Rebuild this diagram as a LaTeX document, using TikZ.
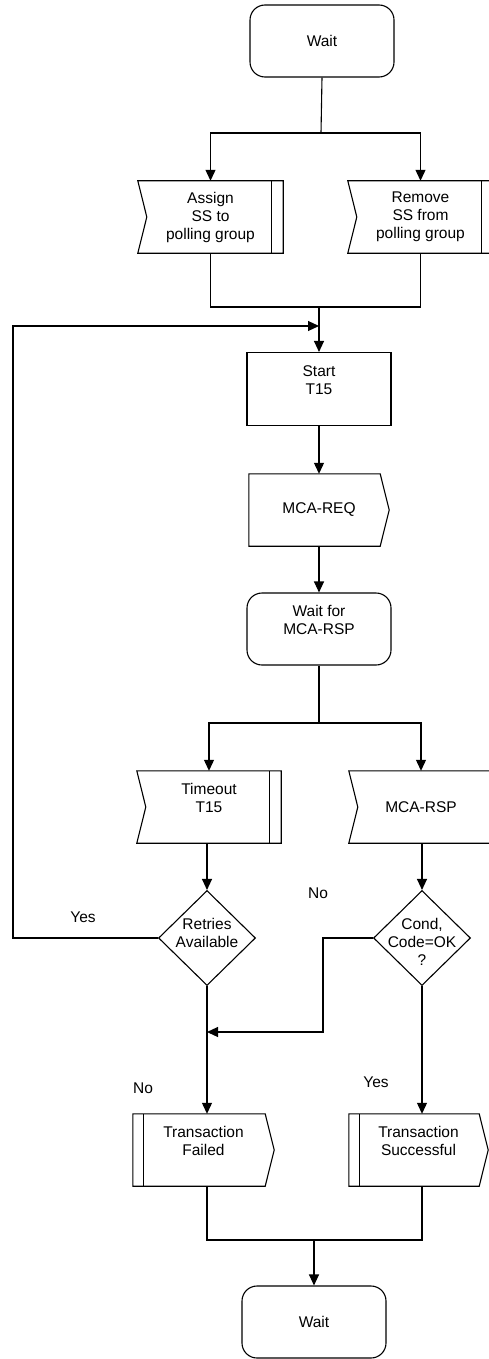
\documentclass[tikz,border=0pt]{standalone}
\usepackage{fontspec}
\setmainfont{Liberation Sans}
\usetikzlibrary{shapes.geometric, arrows.meta}

\begin{document}
\begin{tikzpicture}[
            x=1pt, y=-1pt, % pixel-like units, y going down
            every node/.style={font=\fontsize{15.5}{18}\selectfont, align=center, inner sep=0pt}, % text of all nodes
            conn/.style={line width=1.1pt}, % plain connector
            arrow/.style={conn, -{Triangle[length=11pt, width=10pt]}}, % connector with head
            state/.style={draw, line width=1.1pt, rounded corners=15pt, minimum width=144pt, minimum height=72pt}, % wait states
            task/.style={draw, line width=1.1pt, rectangle, minimum width=144pt, minimum height=73pt}, % task box
            insig/.style={rectangle, minimum width=144pt, minimum height=72pt}, % input signal, outline drawn below
            outsig/.style={rectangle, minimum width=140pt, minimum height=72pt}, % output signal, outline drawn below
            decision/.style={draw, line width=1.1pt, diamond, minimum width=97pt, minimum height=95pt} % decision
            ]
        \useasboundingbox (0,0) rectangle (489,1359);

        % boxes
        \node[state] (wait1) at (322,41) {Wait};
        \node[insig, minimum width=145pt] (assign) at (210.5,217) {Assign\\SS to\\polling group};
        \node[insig, minimum width=145pt] (remove) at (420.5,217) {Remove\\SS from\\polling group};
        \node[task] (start) at (319,389) {Start\\T15\\~};
        \node[outsig] (mcareq) at (319,510) {MCA-REQ};
        \node[state] (waitrsp) at (319,629) {Wait for\\MCA-RSP\\~};
        \node[insig] (timeout) at (209,807) {Timeout\\T15\\~};
        \node[insig] (mcarsp) at (421,807) {MCA-RSP};
        \node[decision] (retries) at (207,938) {};
        \node (retriestext) at (207,933) {Retries\\Available};
        \node[decision] (cond) at (422,938) {};
        \node (condtext) at (422,942) {Cond,\\Code=OK\\?};
        \node[outsig, minimum width=141pt] (failed) at (203.5,1150) {Transaction\\Failed\\~};
        \node[outsig, minimum width=139pt] (success) at (418.5,1150) {Transaction\\Successful\\~};
        \node[state] (wait2) at (314,1322) {Wait};

        % signal outlines
        \foreach \n in {assign, remove, timeout, mcarsp}
            \draw[conn] (\n.north west) -- (\n.north east) -- (\n.south east) -- (\n.south west) -- ([xshift=9pt]\n.west) -- cycle;
        \foreach \n in {mcareq, failed, success}
            \draw[conn] (\n.north west) -- ([xshift=-9pt]\n.north east) -- (\n.east) -- ([xshift=-9pt]\n.south east) -- (\n.south west) -- cycle;

        % double bars
        \foreach \n in {assign, remove, timeout}
            \draw[conn] ([xshift=-12pt]\n.north east) -- ([xshift=-12pt]\n.south east);
        \foreach \n in {failed, success}
            \draw[conn] ([xshift=11pt]\n.north west) -- ([xshift=11pt]\n.south west);

        % bends and joins
        \coordinate (split1) at (321,133);
        \coordinate (merge1) at (319,307);
        \coordinate (loopin) at (319,326);
        \coordinate (yesbend) at (13,326);
        \coordinate (split2) at (319,723);
        \coordinate (nobend) at (323,1032);
        \coordinate (nojoin) at (207,1032);
        \coordinate (merge2) at (314,1240);

        % connectors
        \draw[conn] (wait1.south) -- (split1);
        \draw[arrow] (split1) -| (assign.north);
        \draw[arrow] (split1) -| (remove.north);
        \draw[conn] (assign.south) |- (merge1);
        \draw[conn] (remove.south) |- (merge1);
        \draw[arrow] (merge1) -- (start.north);
        \draw[arrow] (start) -- (mcareq);
        \draw[arrow] (mcareq) -- (waitrsp);
        \draw[conn] (waitrsp.south) -- (split2);
        \draw[arrow] (split2) -| (timeout.north);
        \draw[arrow] (split2) -| (mcarsp.north);
        \draw[arrow] (timeout.south -| retries.north) -- (retries.north);
        \draw[arrow] (mcarsp.south -| cond.north) -- (cond.north);
        \draw[arrow] (retries.west) -| (yesbend) -- (loopin);
        \draw[arrow] (cond.west) -| (nobend) -- (nojoin);
        \draw[arrow] (retries.south) -- (retries.south |- failed.north);
        \draw[arrow] (cond.south) -- (cond.south |- success.north);
        \draw[conn] (failed.south -| retries.south) |- (merge2);
        \draw[conn] (success.south -| cond.south) |- (merge2);
        \draw[arrow] (merge2) -- (wait2.north);

        % branch labels
        \node (yesretry) at (83,917) {Yes};
        \node (nocond) at (318,893) {No};
        \node (noretry) at (143,1088) {No};
        \node (yescond) at (376,1082) {Yes};

    \end{tikzpicture}
\end{document}
